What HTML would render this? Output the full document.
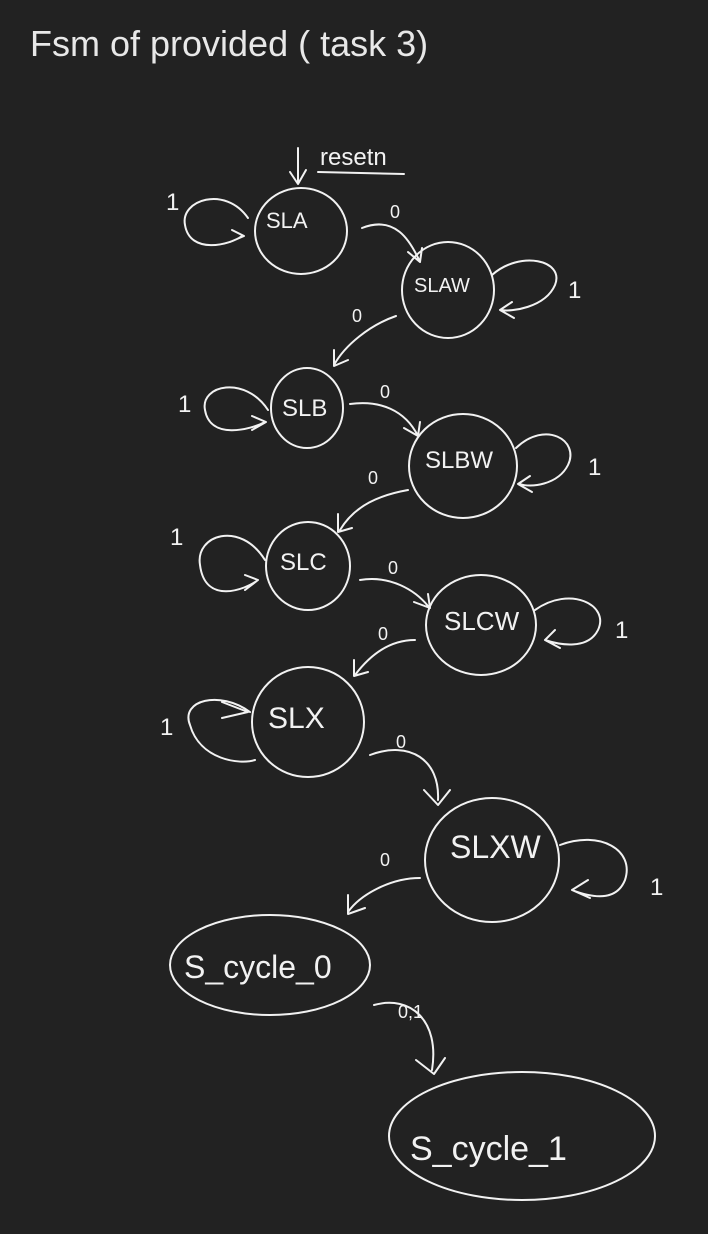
<!DOCTYPE html>
<html><head><meta charset="utf-8">
<style>
html,body{margin:0;padding:0;background:#222222;}
svg{display:block;}
text{fill:#f2f2f2;font-family:"Liberation Sans",sans-serif;}
.s{fill:none;stroke:#f2f2f2;stroke-width:2;stroke-linecap:round;stroke-linejoin:round;}
</style></head>
<body>
<svg width="708" height="1234" viewBox="0 0 708 1234">
<rect width="708" height="1234" fill="#222222"/>
<text x="30" y="56" font-size="36" font-weight="normal" style="fill:#e8e8e8">Fsm of provided ( task 3)</text>

<g>
<path class="s" d="M298 148 L298 182 M290 172 L298 184 L306 170"/>
<text x="320" y="165" font-size="24">resetn</text>
<path class="s" d="M318 172 L404 174"/>
</g>

<g><ellipse class="s" cx="301" cy="231" rx="46" ry="43"/><text x="266" y="228" font-size="22">SLA</text></g>
<g><ellipse class="s" cx="448" cy="290" rx="46" ry="48"/><text x="414" y="292" font-size="20">SLAW</text></g>
<g><ellipse class="s" cx="307" cy="408" rx="36" ry="40"/><text x="282" y="416" font-size="24">SLB</text></g>
<g><ellipse class="s" cx="463" cy="466" rx="54" ry="52"/><text x="425" y="468" font-size="24">SLBW</text></g>
<g><ellipse class="s" cx="308" cy="566" rx="42" ry="44"/><text x="280" y="570" font-size="24">SLC</text></g>
<g><ellipse class="s" cx="481" cy="625" rx="55" ry="50"/><text x="444" y="630" font-size="26">SLCW</text></g>
<g><ellipse class="s" cx="308" cy="722" rx="56" ry="55"/><text x="268" y="728" font-size="30">SLX</text></g>
<g><ellipse class="s" cx="492" cy="860" rx="67" ry="62"/><text x="450" y="858" font-size="32">SLXW</text></g>
<g><ellipse class="s" cx="270" cy="965" rx="100" ry="50"/><text x="184" y="978" font-size="32">S_cycle_0</text></g>
<g><ellipse class="s" cx="522" cy="1136" rx="133" ry="64"/><text x="410" y="1160" font-size="34">S_cycle_1</text></g>

<g><path class="s" d="M248 218 C225 185 180 200 185 225 C190 255 230 245 242 236 M232 230 L244 236 L230 242"/><text x="166" y="210" font-size="24">1</text></g>
<g><path class="s" d="M492 275 C520 250 565 260 555 285 C545 308 510 312 502 310 M512 302 L500 310 L514 318"/><text x="568" y="298" font-size="24">1</text></g>
<g><path class="s" d="M268 410 C245 375 200 385 205 410 C210 440 250 430 265 422 M252 416 L266 422 L252 430"/><text x="178" y="412" font-size="24">1</text></g>
<g><path class="s" d="M516 448 C545 420 580 440 568 465 C558 485 530 488 520 484 M530 476 L518 484 L532 492"/><text x="588" y="475" font-size="24">1</text></g>
<g><path class="s" d="M265 560 C240 520 195 535 200 565 C205 605 245 590 258 580 M245 575 L258 580 L245 590"/><text x="170" y="545" font-size="24">1</text></g>
<g><path class="s" d="M535 610 C570 585 610 605 598 630 C588 650 560 645 545 640 M555 630 L545 640 L560 648"/><text x="615" y="638" font-size="24">1</text></g>
<g><path class="s" d="M250 712 C220 690 180 700 190 725 C200 760 240 765 255 760 M222 702 L248 712 L222 718"/><text x="160" y="735" font-size="24">1</text></g>
<g><path class="s" d="M560 845 C600 830 635 850 625 880 C615 905 585 895 572 890 M588 880 L572 890 L590 898"/><text x="650" y="895" font-size="24">1</text></g>

<g><path class="s" d="M362 228 C395 215 410 240 420 262 M408 252 L420 262 L422 248"/><text x="390" y="218" font-size="18">0</text></g>
<g><path class="s" d="M396 316 C370 325 345 345 334 365 M334 350 L334 366 L348 360"/><text x="352" y="322" font-size="18">0</text></g>
<g><path class="s" d="M350 404 C380 400 405 410 418 436 M404 428 L418 436 L420 422"/><text x="380" y="398" font-size="18">0</text></g>
<g><path class="s" d="M408 490 C380 495 355 505 340 530 M338 514 L338 532 L352 528"/><text x="368" y="484" font-size="18">0</text></g>
<g><path class="s" d="M360 580 C390 575 415 590 428 606 M414 602 L430 608 L428 594"/><text x="388" y="574" font-size="18">0</text></g>
<g><path class="s" d="M415 640 C390 640 370 655 355 675 M354 660 L354 676 L368 672"/><text x="378" y="640" font-size="18">0</text></g>
<g><path class="s" d="M370 755 C410 740 440 760 438 800 M424 790 L438 805 L450 790"/><text x="396" y="748" font-size="18">0</text></g>
<g><path class="s" d="M420 878 C390 878 360 895 348 912 M348 895 L348 914 L365 908"/><text x="380" y="866" font-size="18">0</text></g>
<g><path class="s" d="M374 1005 C410 995 440 1020 432 1070 M416 1060 L434 1074 L445 1058"/><text x="398" y="1018" font-size="18">0,1</text></g>
</svg>
</body></html>
